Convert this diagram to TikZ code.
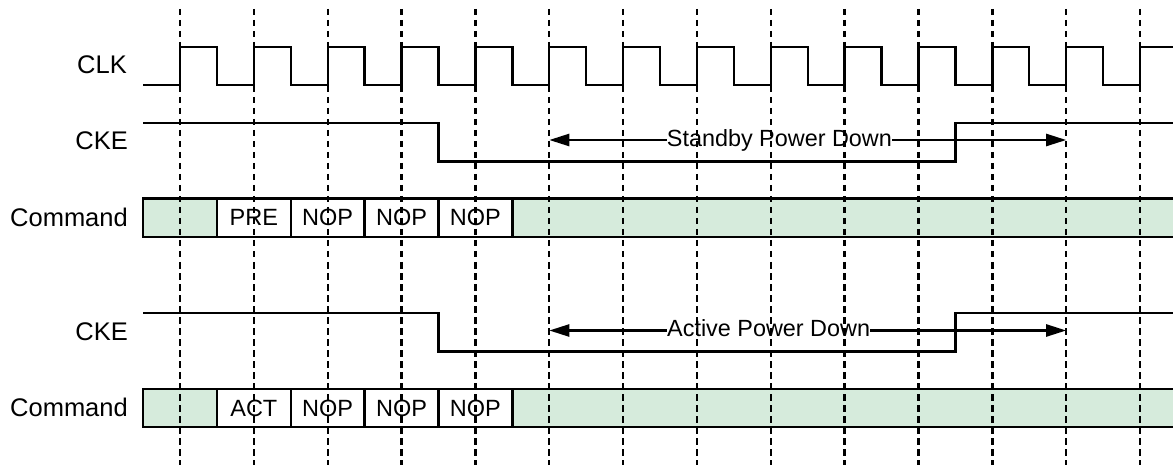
\documentclass[tikz,border=0pt]{standalone}
\usepackage{fontspec}
\setmainfont{Liberation Sans}
\usetikzlibrary{arrows.meta}
\definecolor{cmdgreen}{RGB}{214,235,220}
\begin{document}
\begin{tikzpicture}[x=1pt,y=-1pt,
  sig/.style={line width=2.4pt, line join=miter},
  gridline/.style={line width=2.4pt, dash pattern=on 6.5pt off 4.5pt},
  lab/.style={anchor=base east, inner sep=0pt, font=\fontsize{25.5}{30}\selectfont},
  cell/.style={draw, line width=2.4pt, fill=white, minimum width=73.85pt, minimum height=38.5pt, inner sep=0pt, outer sep=0pt, font=\fontsize{23.5}{28}\selectfont},
  gcell/.style={cell, fill=cmdgreen},
  span/.style={anchor=base west, inner sep=0pt, font=\fontsize{23.4}{28}\selectfont},
  spanline/.style={line width=2.4pt, -{Triangle[length=20pt,width=12pt]}}]
\useasboundingbox (0,0) rectangle (1173,465);
\def\P{73.85}
% labels
\node[lab] (lclk) at (127,74) {CLK};
\node[lab] (lcke1) at (128,150) {CKE};
\node[lab] (lcmd1) at (128,226.5) {Command};
\node[lab] (lcke2) at (128,340) {CKE};
\node[lab] (lcmd2) at (128,416.5) {Command};
% CLK
\draw[sig] (143,85) -- (180,85) foreach \k in {0,...,13} { -- ++(0,-38) -- ++(0.5*\P,0) -- ++(0,38) -- ++(0.5*\P,0) };
% CKE 1
\draw[sig] (143,123) -- (180+3.5*\P,123) -- (180+3.5*\P,161.5) -- (180+10.5*\P,161.5) -- (180+10.5*\P,123) -- (1180,123);
% CKE 2
\draw[sig] (143,313) -- (180+3.5*\P,313) -- (180+3.5*\P,351.5) -- (180+10.5*\P,351.5) -- (180+10.5*\P,313) -- (1180,313);
% Command 1
\node[gcell] (a0) at (180,217.8) {};
\node[cell] (a1) at (180+\P,217.8) {PRE};
\node[cell] (a2) at (180+2*\P,217.8) {NOP};
\node[cell] (a3) at (180+3*\P,217.8) {NOP};
\node[cell] (a4) at (180+4*\P,217.8) {NOP};
\node[gcell, minimum width=680pt, anchor=west] (a5) at (a4.east) {};
% Command 2
\node[gcell] (b0) at (180,408) {};
\node[cell] (b1) at (180+\P,408) {ACT};
\node[cell] (b2) at (180+2*\P,408) {NOP};
\node[cell] (b3) at (180+3*\P,408) {NOP};
\node[cell] (b4) at (180+4*\P,408) {NOP};
\node[gcell, minimum width=680pt, anchor=west] (b5) at (b4.east) {};
% Standby power down span
\coordinate (s1l) at (180+5*\P,140);
\coordinate (s1r) at (180+12*\P,140);
\node[span] (t1) at (666.7,146.7) {Standby Power Down};
\draw[spanline] (t1.west |- s1l) -- (s1l);
\draw[spanline] (t1.east |- s1r) -- (s1r);
% Active power down span
\coordinate (s2l) at (180+5*\P,330.5);
\coordinate (s2r) at (180+12*\P,330.5);
\node[span] (t2) at (667,336.7) {Active Power Down};
\draw[spanline] (t2.west |- s2l) -- (s2l);
\draw[spanline] (t2.east |- s2r) -- (s2r);
% clock grid
\foreach \k in {0,...,13} {
  \draw[gridline] (180+\k*\P,9) -- (180+\k*\P,470);
}
\end{tikzpicture}
\end{document}
